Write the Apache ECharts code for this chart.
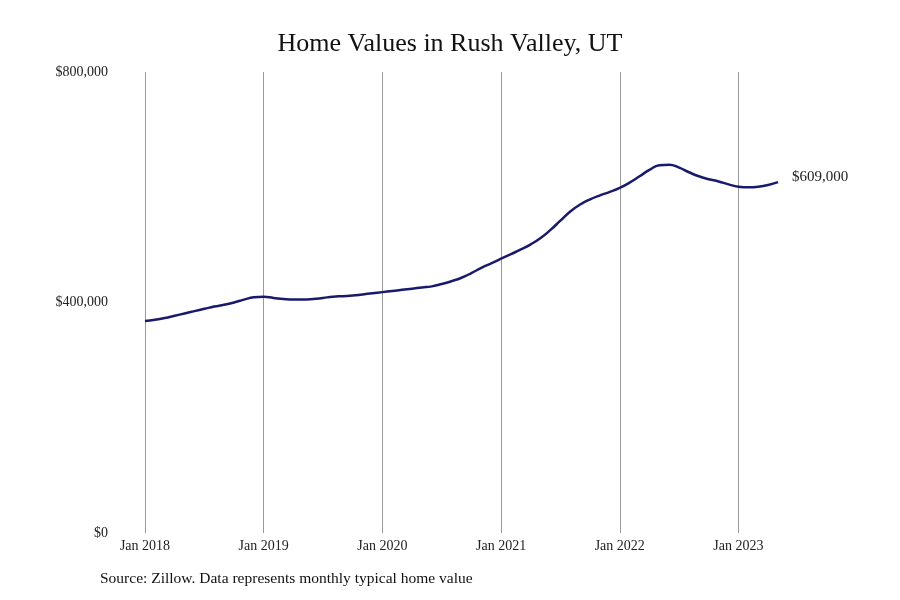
<!DOCTYPE html>
<html>
<head>
<meta charset="utf-8">
<title>Home Values in Rush Valley, UT</title>
<script src="https://cdn.jsdelivr.net/npm/echarts@6/dist/echarts.min.js"></script>
<style>
	html, body { margin: 0; padding: 0; background: #fff; }
	#main { width: 900px; height: 600px; }
</style>
</head>
<body>
<div id="main"></div>
<script>
	// monthly months, Jan 2018 .. May 2023
	var months = [];
	for (var y = 2018; y <= 2023; y++) {
		for (var m = 1; m <= 12; m++) {
			if (y == 2023 && m > 5) break;
			months.push(y + '-' + (m < 10 ? '0' + m : m));
		}
	}
	var monthNames = ['Jan', 'Feb', 'Mar', 'Apr', 'May', 'Jun', 'Jul', 'Aug', 'Sep', 'Oct', 'Nov', 'Dec'];

	// typical home value (dollars)
	var values2018 = [368000, 370000, 373000, 377000, 381000, 385000, 389000, 393000, 396000, 400000, 405000, 409000];
	var values2019 = [410000, 408000, 406000, 405000, 405000, 406000, 408000, 410000, 411000, 412000, 414000, 416000];
	var values2020 = [418000, 420000, 422000, 424000, 426000, 428000, 432000, 437000, 443000, 451000, 460000, 468000];
	var values2021 = [476000, 484000, 492000, 501000, 512000, 526000, 542000, 558000, 570000, 579000, 586000, 592000];
	var values2022 = [599000, 608000, 619000, 630000, 638000, 639000, 634000, 626000, 619000, 614000, 610000, 605000];
	var values2023 = [601000, 600000, 601000, 604000, 609000];
	var homeValues = [].concat(values2018, values2019, values2020, values2021, values2022, values2023);

	var yTicks = [0, 400000, 800000];

	function money(v) {
		return '$' + v.toLocaleString('en-US');
	}

	var font = 'Liberation Serif';
	var myChart = echarts.init(document.getElementById('main'));
	var option = {
		backgroundColor: '#fff',
		animation: false,
		title: {
			text: 'Home Values in Rush Valley, UT',
			left: 'center',
			top: 26,
			textStyle: { fontFamily: font, fontSize: 26, fontWeight: 'normal', color: '#111' }
		},
		graphic: [{
			type: 'text',
			left: 100,
			top: 571,
			style: {
				text: 'Source: Zillow. Data represents monthly typical home value',
				fontFamily: font,
				fontSize: 15.5,
				fill: '#111'
			}
		}],
		grid: { left: 145, right: 122, top: 72, bottom: 67, containLabel: false },
		xAxis: {
			type: 'category',
			boundaryGap: false,
			data: months,
			axisLine: { show: false },
			axisTick: { show: false },
			axisLabel: {
				interval: 11,
				margin: 6,
				fontFamily: font,
				fontSize: 14,
				color: '#222',
				formatter: function(v) {
					var p = v.split('-');
					return monthNames[parseInt(p[1], 10) - 1] + ' ' + p[0];
				}
			},
			splitLine: { show: true, interval: 11, lineStyle: { color: '#999', width: 1 } }
		},
		yAxis: {
			type: 'value',
			min: yTicks[0],
			max: yTicks[yTicks.length - 1],
			interval: yTicks[1] - yTicks[0],
			axisLine: { show: false },
			axisTick: { show: false },
			splitLine: { show: false },
			axisLabel: {
				margin: 37,
				fontFamily: font,
				fontSize: 14,
				color: '#222',
				verticalAlign: 'middle',
				formatter: money
			}
		},
		series: [{
			type: 'line',
			data: homeValues,
			smooth: true,
			showSymbol: false,
			lineStyle: { color: '#1a1a6c', width: 2.5 },
			endLabel: {
				show: true,
				distance: 14,
				offset: [0, -5],
				fontFamily: font,
				fontSize: 15,
				color: '#222',
				formatter: function(p) { return money(p.value); }
			}
		}]
	};
	myChart.setOption(option);
</script>
</body>
</html>
